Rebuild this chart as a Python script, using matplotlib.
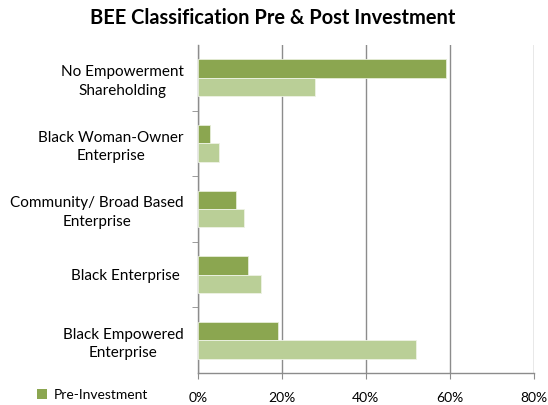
import matplotlib.pyplot as plt
from matplotlib.patches import Patch
import numpy as np

categories = [
    "No Empowerment\nShareholding",
    "Black Woman-Owner\nEnterprise",
    "Community/ Broad Based\nEnterprise",
    "Black Enterprise ",
    "Black Empowered\nEnterprise",
]
pre_investment = [59, 3, 9, 12, 19]
post_investment = [28, 5, 11, 15, 52]
x_ticks = [0, 20, 40, 60, 80]

dark_green = "#8BA650"
light_green = "#BACF97"
grid_grey = "#8C8C8C"

plt.rcParams["font.family"] = ["Lato", "DejaVu Sans"]

fig = plt.figure(figsize=(5.48, 4.05), dpi=100)
ax = fig.add_axes([0.3608, 0.079, 0.6137, 0.810])

n = len(categories)
y = np.arange(n)[::-1].astype(float)
h = 0.28
ax.barh(y + h / 2, pre_investment, height=h, color=dark_green,
        edgecolor="#E6EDD8", linewidth=0.6, zorder=3)
ax.barh(y - h / 2, post_investment, height=h, color=light_green,
        edgecolor="#EEF3E5", linewidth=0.6, zorder=3)

ax.set_xlim(0, 80)
ax.set_ylim(-0.5, n - 0.5)
ax.set_xticks(x_ticks)
ax.set_xticklabels([f"{v}%" for v in x_ticks], fontsize=10)
ax.xaxis.grid(True, color=grid_grey, linewidth=1.0, zorder=0)

ax.set_yticks(y)
ax.set_yticklabels(categories, fontsize=11, ha="right", multialignment="center",
                   linespacing=1.4)
ax.tick_params(axis="y", length=0, pad=10)
ax.set_yticks(np.arange(n - 1) + 0.5, minor=True)
ax.tick_params(axis="y", which="minor", length=4, color=grid_grey, direction="out")
ax.tick_params(axis="x", length=4, color=grid_grey, direction="out", pad=10)

for side in ["top", "right"]:
    ax.spines[side].set_visible(False)
for side in ["left", "bottom"]:
    ax.spines[side].set_color(grid_grey)
    ax.spines[side].set_linewidth(1.0)

fig.text(0.497, 0.955, "BEE Classification Pre & Post Investment",
         ha="center", va="center", fontsize=14.4, fontweight="bold")

fig.legend(handles=[Patch(facecolor=dark_green, label="Pre-Investment")],
           loc="center left", bbox_to_anchor=(0.045, 0.025), frameon=False,
           fontsize=10, handlelength=0.7, handleheight=0.7, handletextpad=0.5)

fig.savefig("out.png", dpi=100)
